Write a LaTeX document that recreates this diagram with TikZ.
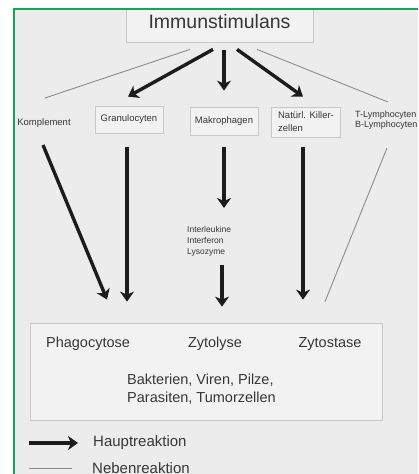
\documentclass[tikz,border=0pt]{standalone}
\usepackage{fontspec}
\setmainfont{Liberation Sans}
\usetikzlibrary{positioning,arrows.meta}

\definecolor{grund}{RGB}{236,236,236}
\definecolor{kastenfill}{RGB}{242,242,242}
\definecolor{rand}{RGB}{200,200,200}
\definecolor{schrift}{RGB}{55,55,55}
\definecolor{pfeil}{RGB}{28,28,28}
\definecolor{linie}{RGB}{140,140,140}
\definecolor{gruen}{RGB}{20,165,85}

\begin{document}
\begin{tikzpicture}[x=1pt,y=-1pt,
    kasten/.style={draw=rand,fill=kastenfill,line width=0.8pt,inner sep=0pt,text=schrift},
    klein/.style={font=\fontsize{9.5}{11}\selectfont,text=schrift,inner sep=0pt,align=left},
    mittel/.style={font=\fontsize{14.5}{18}\selectfont,text=schrift,inner sep=0pt,align=left},
    hauptpfeil/.style={draw=pfeil,line width=3.4pt,-{Stealth[length=10pt,width=14pt,inset=3pt]}},
    nebenlinie/.style={draw=linie,line width=0.9pt}]
  \useasboundingbox (0,0) rectangle (418,474);
  \fill[white] (0,0) rectangle (418,474);
  \fill[grund] (14,9) rectangle (418,474);

  \begin{scope}
    \clip (14,9) rectangle (418,474);
    % Kaesten
    \node[kasten,minimum width=187pt,minimum height=40pt,
      font=\fontsize{19.5}{20}\selectfont] (imm) at (219.5,22) {Immunstimulans};
    \node[klein] (kompl) at (44,123) {Komplement};
    \node[kasten,klein,minimum width=68pt,minimum height=27pt] (gran) at (129,119.5) {Granulocyten};
    \node[kasten,klein,minimum width=68pt,minimum height=28pt] (makro) at (224,121) {Makrophagen};
    \node[kasten,klein,minimum width=68pt,minimum height=30pt,inner xsep=7pt,
      font=\fontsize{9.5}{13}\selectfont] (killer) at (306,122) {Natürl. Killer-\\zellen};
    \node[klein,anchor=west,font=\fontsize{9}{10}\selectfont] (lymph) at (355,120) {T-Lymphocyten\\B-Lymphocyten};
    \node[klein,anchor=west,font=\fontsize{8.5}{11}\selectfont] (inter) at (187,241) {Interleukine\\Interferon\\Lysozyme};

    \node[kasten,minimum width=352pt,minimum height=97pt] (ziel) at (206,371.5) {};
    \node[mittel] (phago) at (88,344) {Phagocytose};
    \node[mittel] (zytol) at (215,344) {Zytolyse};
    \node[mittel] (zytost) at (330,344) {Zytostase};
    \node[mittel,anchor=west] (erreger) at (127,389) {Bakterien, Viren, Pilze,\\Parasiten, Tumorzellen};

    % Reaktionen von oben
    \draw[nebenlinie] ([shift={(-29.5,7)}]imm.south) -- ([shift={(1,-25)}]kompl.center);
    \draw[hauptpfeil] ([shift={(-6.5,7)}]imm.south) -- ([shift={(-1,-9)}]gran.north);
    \draw[hauptpfeil] ([shift={(4.5,8)}]imm.south) -- ([shift={(0,-16)}]makro.north);
    \draw[hauptpfeil] ([shift={(17.5,7)}]imm.south) -- ([shift={(-3,-10)}]killer.north);
    \draw[nebenlinie] ([shift={(37.5,7)}]imm.south) -- ([shift={(33,-18)}]lymph.west);

    % Reaktionen nach unten
    \draw[hauptpfeil] ([shift={(-1,22)}]kompl.center) -- ([shift={(-99,-23)}]ziel.north);
    \draw[hauptpfeil] ([shift={(-2,14)}]gran.south) -- ([shift={(-79,-21)}]ziel.north);
    \draw[hauptpfeil] ([shift={(0,12)}]makro.south) -- ([shift={(37,-33)}]inter.west);
    \draw[hauptpfeil] ([shift={(35,24)}]inter.west) -- ([shift={(16,-16)}]ziel.north);
    \draw[hauptpfeil] ([shift={(-3,10)}]killer.south) -- ([shift={(97,-23)}]ziel.north);
    \draw[nebenlinie] ([shift={(32,28)}]lymph.west) -- ([shift={(119,-21)}]ziel.north);

    % Legende
    \coordinate (h1) at (29,443);
    \coordinate (h2) at (78,443);
    \coordinate (n1) at (29,468);
    \coordinate (n2) at (72,468);
    \draw[hauptpfeil] (h1) -- (h2);
    \draw[nebenlinie] (n1) -- (n2);
    \node[mittel,font=\fontsize{15}{18}\selectfont,right=15pt of h2] (haupt) {Hauptreaktion};
    \node[mittel,font=\fontsize{15}{18}\selectfont,right=20pt of n2] (neben) {Nebenreaktion};
  \end{scope}

  \draw[gruen,line width=1.6pt] (14,474) -- (14,9) -- (418,9);
\end{tikzpicture}
\end{document}
